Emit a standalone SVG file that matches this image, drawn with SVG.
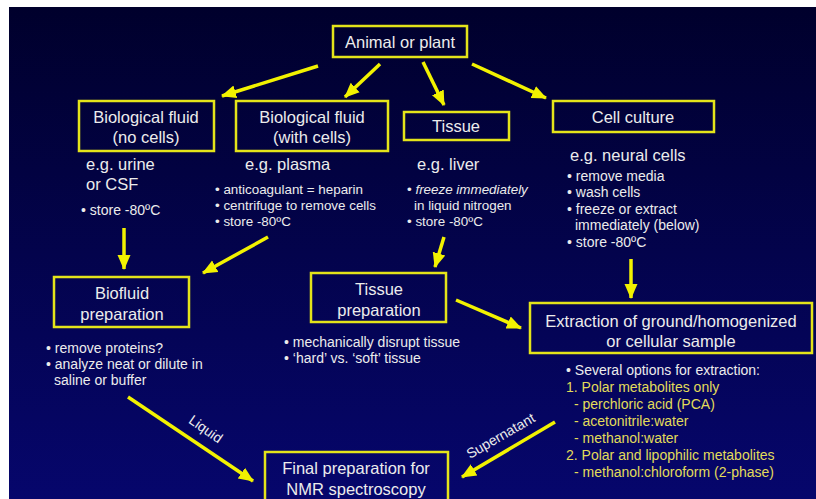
<svg xmlns="http://www.w3.org/2000/svg" width="816" height="499" viewBox="0 0 816 499">
<defs>
<linearGradient id="bg" x1="0" y1="0" x2="0" y2="1">
<stop offset="0" stop-color="#00002c"/>
<stop offset="1" stop-color="#06066c"/>
</linearGradient>
<marker id="ah" markerUnits="userSpaceOnUse" markerWidth="16" markerHeight="16" refX="14" refY="8" orient="auto">
<path d="M0,1.5 L15,8 L0,14.5 Z" fill="#f2f200"/>
</marker>
<style>
.box{fill:none;stroke:#e4e41a;stroke-width:2.5}
.t{font-family:"Liberation Sans",Arial,sans-serif;fill:#ececec}
.h{font-size:16.5px;text-anchor:middle}
.eg{font-size:16.5px}
.s{font-size:14px}
.s2{font-size:13.4px}
.y{fill:#e2dc5a}
.c line{stroke:#f2f200;stroke-width:3.5;marker-end:url(#ah)}
</style>
</defs>
<rect x="0" y="0" width="816" height="499" fill="#ffffff"/>
<rect x="9" y="7" width="807" height="492" fill="url(#bg)"/>

<g id="animal">
<rect class="box" x="333" y="26" width="134" height="31"/>
<text class="t h" x="400" y="48">Animal or plant</text>
</g>
<g id="biofluid-nocells">
<rect class="box" x="79" y="101" width="135" height="50"/>
<text class="t h" x="146" y="123">Biological fluid</text>
<text class="t h" x="146" y="143">(no cells)</text>
<text class="t eg" x="86" y="170">e.g. urine</text>
<text class="t eg" x="86" y="190">or CSF</text>
<text class="t s" x="81" y="215">• store -80ºC</text>
</g>
<g id="biofluid-cells">
<rect class="box" x="236" y="101" width="152" height="50"/>
<text class="t h" x="312" y="123">Biological fluid</text>
<text class="t h" x="312" y="143">(with cells)</text>
<text class="t eg" x="245" y="170">e.g. plasma</text>
<text class="t s2" x="215" y="194">• anticoagulant = heparin</text>
<text class="t s2" x="215" y="210">• centrifuge to remove cells</text>
<text class="t s2" x="215" y="226">• store -80ºC</text>
</g>
<g id="tissue">
<rect class="box" x="404" y="112" width="105" height="28"/>
<text class="t h" x="456" y="132">Tissue</text>
<text class="t eg" x="417" y="170">e.g. liver</text>
<text class="t s2" x="407" y="194">• <tspan font-style="italic">freeze immediately</tspan></text>
<text class="t s2" x="414" y="210">in liquid nitrogen</text>
<text class="t s2" x="407" y="226">• store -80ºC</text>
</g>
<g id="cellculture">
<rect class="box" x="553" y="101" width="161" height="31"/>
<text class="t h" x="633" y="123">Cell culture</text>
<text class="t eg" x="570" y="161">e.g. neural cells</text>
<text class="t s" x="567" y="181">• remove media</text>
<text class="t s" x="567" y="197">• wash cells</text>
<text class="t s" x="567" y="214">• freeze or extract</text>
<text class="t s" x="575" y="230">immediately (below)</text>
<text class="t s" x="567" y="247">• store -80ºC</text>
</g>
<g id="biofluid-prep">
<rect class="box" x="54" y="277" width="135" height="50"/>
<text class="t h" x="122" y="299">Biofluid</text>
<text class="t h" x="122" y="320">preparation</text>
<text class="t s" x="46" y="353">• remove proteins?</text>
<text class="t s" x="46" y="369">• analyze neat or dilute in</text>
<text class="t s" x="54" y="385">saline or buffer</text>
</g>
<g id="tissue-prep">
<rect class="box" x="311" y="273" width="135" height="49"/>
<text class="t h" x="379" y="295">Tissue</text>
<text class="t h" x="379" y="316">preparation</text>
<text class="t s" x="284" y="347">• mechanically disrupt tissue</text>
<text class="t s" x="284" y="363">• ‘hard’ vs. ‘soft’ tissue</text>
</g>
<g id="extraction">
<rect class="box" x="530" y="303" width="282" height="50"/>
<text class="t h" x="671" y="327">Extraction of ground/homogenized</text>
<text class="t h" x="671" y="347">or cellular sample</text>
<text class="t s" x="566" y="375">• Several options for extraction:</text>
<text class="t s y" x="566" y="392">1. Polar metabolites only</text>
<text class="t s y" x="574" y="409">- perchloric acid (PCA)</text>
<text class="t s y" x="574" y="426">- acetonitrile:water</text>
<text class="t s y" x="574" y="443">- methanol:water</text>
<text class="t s y" x="566" y="460">2. Polar and lipophilic metabolites</text>
<text class="t s y" x="574" y="477">- methanol:chloroform (2-phase)</text>
</g>
<g id="final">
<rect class="box" x="265" y="452" width="183" height="60"/>
<text class="t h" x="356" y="474">Final preparation for</text>
<text class="t h" x="356" y="495">NMR spectroscopy</text>
</g>

<g id="connectors" class="c">
<line x1="318" y1="66" x2="222" y2="96"/>
<line x1="380" y1="64" x2="345" y2="97"/>
<line x1="423" y1="62" x2="444" y2="105"/>
<line x1="472" y1="64" x2="546" y2="98"/>
<line x1="124" y1="228" x2="124" y2="269"/>
<line x1="268" y1="237" x2="203" y2="273"/>
<line x1="444" y1="237" x2="435" y2="267"/>
<line x1="631" y1="259" x2="631" y2="298"/>
<line x1="456" y1="300" x2="521" y2="328"/>
<line x1="128" y1="397" x2="253" y2="481"/>
<line x1="555" y1="422" x2="462" y2="477"/>
</g>
<text class="t s" x="0" y="0" text-anchor="middle" transform="translate(203,433) rotate(35)">Liquid</text>
<text class="t s" x="0" y="0" text-anchor="middle" transform="translate(503,440) rotate(-30)">Supernatant</text>
</svg>
